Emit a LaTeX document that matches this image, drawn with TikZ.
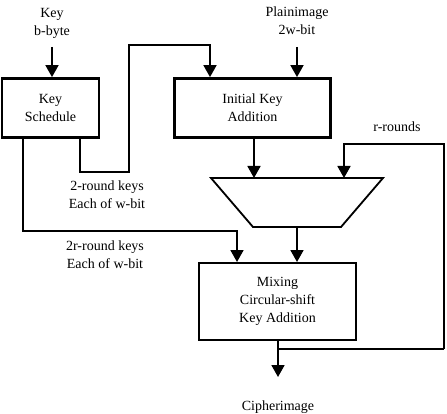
\documentclass[tikz,border=0pt]{standalone}
\usepackage{fontspec}
\setmainfont{Liberation Serif}
\usetikzlibrary{arrows.meta}
\begin{document}
\begin{tikzpicture}[x=1pt,y=-1pt,
  lbl/.style={align=center,font=\fontsize{14}{18}\selectfont,inner sep=0pt},
  bigbox/.style={draw,line width=2.8pt,align=center,font=\fontsize{14}{18}\selectfont,inner sep=0pt},
  midbox/.style={draw,line width=2pt,align=center,font=\fontsize{14}{18}\selectfont,inner sep=0pt},
  conn/.style={line width=1.8pt},
  arr/.style={conn,-{Triangle[width=13pt,length=12pt]}}]
\useasboundingbox (0,0) rectangle (447,414);
% boxes
\node[bigbox,minimum width=97pt,minimum height=59pt] (ks) at (50.5,108) {Key\\Schedule};
\node[bigbox,minimum width=156pt,minimum height=59pt] (ika) at (252.5,108) {Initial Key\\Addition};
\node[midbox,minimum width=157pt,minimum height=77pt] (mix) at (277.5,301.5) {Mixing\\Circular-shift\\Key Addition};
% trapezoid
\draw[line width=1.8pt] (211,178) -- (383,178) -- (341,227) -- (253,227) -- cycle;
\coordinate (trtop) at (297,178);
\coordinate (trbot) at (297,227);
% labels
\node[lbl] (keyin) at (52,23) {Key\\b-byte};
\node[lbl] (plain) at (297,21) {Plainimage\\2w-bit};
\node[lbl] (rk2) at (107,195) {2-round keys\\Each of w-bit};
\node[lbl] (rk2r) at (105,255) {2r-round keys\\Each of w-bit};
\node[lbl] (rr) at (397,127) {r-rounds};
\node[lbl] (cipher) at (278,407) {Cipherimage};
% coordinates
\coordinate (k0) at (52,47);
\coordinate (p0) at (297,47);
\coordinate (a1) at (80,172);
\coordinate (a2) at (129,172);
\coordinate (a3) at (129,45);
\coordinate (a4) at (210,45);
\coordinate (b1) at (23,231);
\coordinate (b2) at (237,231);
\coordinate (c0) at (254,178);
\coordinate (l1) at (444,349);
\coordinate (l2) at (444,144);
\coordinate (l3) at (344,144);
\coordinate (l4) at (344,178);
\coordinate (o0) at (278,349);
\coordinate (o1) at (278,377);
% connectors
\draw[arr] (k0) -- (k0 |- ks.north);
\draw[arr] (p0) -- (p0 |- ika.north);
\draw[arr] (a1 |- ks.south) -- (a1) -- (a2) -- (a3) -- (a4) -- (a4 |- ika.north);
\draw[arr] (b1 |- ks.south) -- (b1) -- (b2) -- (b2 |- mix.north);
\draw[arr] (c0 |- ika.south) -- (c0);
\draw[arr] (l1) -- (l2) -- (l3) -- (l4);
\draw[arr] (trbot) -- (trbot |- mix.north);
\draw[arr] (o0 |- mix.south) -- (o1);
\draw[conn] (o0) -- (l1);
\end{tikzpicture}
\end{document}
